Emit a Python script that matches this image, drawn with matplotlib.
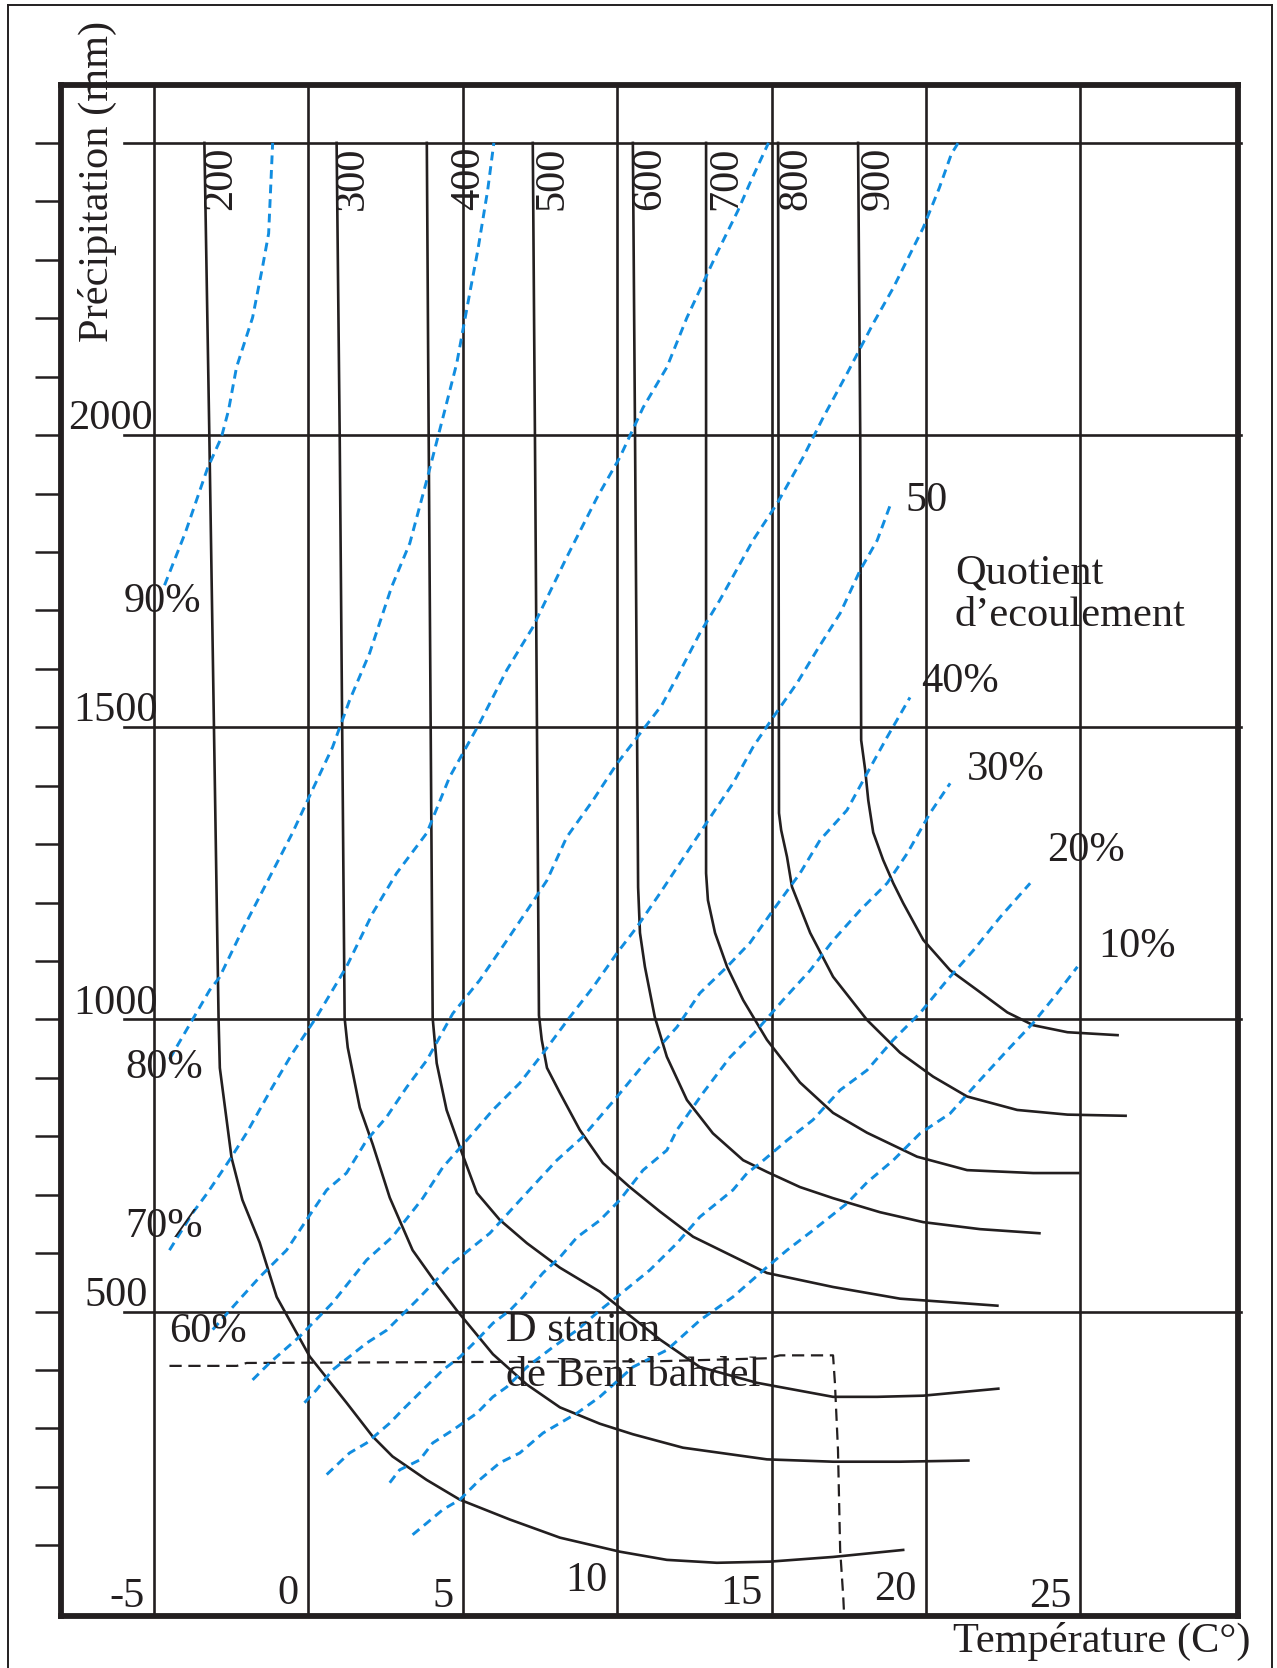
import matplotlib
matplotlib.use('Agg')
import matplotlib.pyplot as plt
from matplotlib.lines import Line2D

plt.rcParams['font.family'] = ['Liberation Serif', 'DejaVu Serif']

INK = '#231f20'
BLUE = '#118de0'
FS = 30.5

# grille : températures (°C) et précipitations (mm)
temp_grid = [-5, 0, 5, 10, 15, 20, 25]
precip_grid = [500, 1000, 1500, 2000, 2500]
precip_ticks = [100, 200, 300, 400, 500, 600, 700, 800, 900, 1000, 1100, 1200,
                1300, 1400, 1500, 1600, 1700, 1800, 1900, 2000, 2100, 2200,
                2300, 2400, 2500]
y_labels = ['2000', '1500', '1000', '500']
y_label_vals = [2000, 1500, 1000, 500]
x_labels = ['-5', '0', '5', '10', '15', '20', '25']

# courbes de deficit d'ecoulement (T en °C, P en mm)
d200_t = [-3.36, -3.20, -2.90, -2.86, -2.48, -2.13, -1.57, -1.02, 0.05, 1.24, 2.09,
          2.73, 3.83, 4.91, 6.53, 8.15, 10.09, 11.61, 13.23, 14.95, 16.99, 19.26]
d200_p = [2500, 2000, 999, 917, 763, 691, 618, 525, 423, 344, 286,
          252, 212, 178, 144, 113, 89, 75, 70, 72, 80, 92]
d300_t = [0.92, 1.02, 1.18, 1.28, 1.67, 2.09, 2.64, 3.38, 4.16, 4.81, 5.98,
          7.08, 8.15, 9.44, 10.51, 12.13, 14.85, 16.99, 19.16, 21.37]
d300_p = [2500, 2000, 1002, 952, 849, 786, 695, 605, 547, 502, 427,
          375, 336, 308, 290, 267, 247, 243, 243, 245]
d400_t = [3.84, 3.90, 4.03, 4.16, 4.48, 4.91, 5.46, 6.20, 7.08, 8.15, 9.44,
          11.39, 12.68, 14.53, 16.99, 18.42, 19.91, 22.34]
d400_p = [2500, 2000, 1002, 925, 845, 781, 703, 657, 617, 575, 534,
          452, 405, 378, 354, 354, 356, 368]
d500_t = [7.27, 7.34, 7.47, 7.56, 7.73, 8.15, 8.79, 9.54, 10.41, 11.39, 12.46,
          14.85, 16.99, 19.16, 22.31]
d500_p = [2500, 2000, 1007, 965, 917, 874, 811, 754, 713, 671, 628,
          566, 542, 522, 510]
d600_t = [10.51, 10.58, 10.68, 10.74, 10.90, 11.22, 11.61, 12.26, 13.10, 14.08,
          14.85, 15.92, 16.99, 18.51, 19.91, 21.75, 23.67]
d600_p = [2500, 2000, 1226, 1148, 1090, 1004, 936, 862, 805, 759,
          739, 713, 694, 670, 653, 641, 634]
d700_t = [12.88, 12.88, 12.94, 13.17, 13.56, 14.08, 14.85, 15.92, 16.99, 18.09,
          19.71, 21.33, 23.47, 24.93]
d700_p = [2500, 1250, 1204, 1148, 1090, 1033, 965, 892, 840, 806,
          765, 742, 737, 737]
d800_t = [15.21, 15.24, 15.31, 15.50, 15.66, 16.25, 16.99, 18.09, 19.16, 20.23,
          21.33, 22.95, 24.58, 26.46]
d800_p = [2500, 1353, 1324, 1278, 1227, 1148, 1073, 999, 943, 902,
          868, 845, 837, 835]
d900_t = [17.80, 17.87, 17.90, 18.03, 18.13, 18.29, 18.61, 18.94, 19.26, 19.91,
          20.78, 21.66, 22.63, 23.47, 24.58, 26.20]
d900_p = [2500, 2000, 1478, 1427, 1375, 1320, 1273, 1233, 1199, 1136,
          1084, 1050, 1012, 990, 978, 973]
deficit_names = ['200', '300', '400', '500', '600', '700', '800', '900']
deficit_label_t = [-2.83, 1.45, 5.21, 7.90, 11.07, 13.52, 15.79, 18.45]

# quotient d'ecoulement (%)
q90_t = [-4.65, -3.97, -3.26, -2.81, -2.58, -2.32, -1.80, -1.48, -1.28, -1.15]
q90_p = [1743, 1834, 1943, 1996, 2042, 2116, 2201, 2287, 2345, 2500]
q80_t = [-4.49, -3.75, -3.19, -2.87, -2.13, -1.35, -0.51, 0.14, 0.79, 1.34, 1.99,
         2.70, 3.29, 3.84, 4.42, 4.81, 5.23, 5.49, 5.81, 6.01]
q80_p = [932, 999, 1050, 1072, 1153, 1233, 1319, 1393, 1466, 1546, 1627,
         1740, 1815, 1923, 2042, 2123, 2243, 2316, 2419, 2500]
q70_t = [-4.49, -3.75, -3.26, -2.55, -2.00, -1.16, -0.51, 0.27, 1.24, 2.09, 2.86,
         3.84, 4.58, 5.55, 6.43, 7.27, 8.37, 9.35, 10.09, 10.84, 11.61, 12.26,
         13.23, 13.91, 14.34, 14.90]
q70_p = [605, 668, 703, 759, 805, 884, 942, 1004, 1090, 1182, 1250,
         1319, 1415, 1507, 1598, 1671, 1791, 1893, 1962, 2047, 2116, 2201,
         2311, 2384, 2436, 2500]
q60_t = [-3.09, -2.32, -1.57, -0.70, 0.05, 0.60, 1.24, 1.89, 2.54, 3.19, 3.84,
         4.68, 5.55, 6.43, 7.08, 7.73, 8.37, 9.22, 10.00, 11.45, 11.94, 12.68,
         13.33, 14.40, 15.18, 16.02, 16.67, 17.44, 18.29, 18.94, 19.91, 20.43,
         20.82, 21.04]
q60_p = [469, 515, 559, 605, 665, 708, 737, 793, 833, 884, 930,
         1010, 1067, 1135, 1186, 1238, 1312, 1375, 1438, 1538, 1586, 1661,
         1718, 1820, 1883, 1962, 2030, 2105, 2191, 2252, 2355, 2423,
         2481, 2500]
q50_t = [-1.80, -1.25, -0.28, 0.79, 1.89, 2.73, 3.71, 4.36, 5.13, 5.98, 6.85,
         7.60, 8.47, 9.22, 9.99, 10.64, 11.39, 11.94, 12.59, 13.23, 13.75,
         14.40, 15.05, 15.83, 16.47, 17.22, 17.87, 18.42, 18.84]
q50_p = [383, 412, 457, 515, 588, 628, 694, 747, 793, 845, 891,
         942, 1004, 1055, 1113, 1158, 1216, 1260, 1312, 1363, 1404,
         1466, 1517, 1576, 1632, 1695, 1769, 1820, 1880]
q40_t = [-0.12, 0.27, 0.79, 1.89, 2.54, 3.51, 4.68, 5.88, 6.95, 8.05, 8.89,
         9.99, 10.97, 11.94, 12.68, 13.56, 14.30, 15.05, 15.92, 16.57, 17.44,
         18.09, 18.74, 19.48]
q40_p = [344, 366, 400, 446, 468, 519, 583, 634, 696, 759, 799,
         867, 930, 987, 1045, 1090, 1131, 1187, 1250, 1307, 1358,
         1421, 1483, 1551]
q30_t = [0.60, 1.34, 1.89, 2.64, 3.06, 3.71, 4.36, 4.91, 5.55, 5.98, 6.53,
         6.95, 7.60, 8.15, 8.70, 9.44, 10.09, 10.84, 11.61, 11.94, 12.78,
         13.65, 14.53, 15.37, 16.25, 16.99, 17.87, 18.74, 19.39, 20.13, 20.78]
q30_p = [221, 258, 275, 309, 332, 366, 400, 422, 456, 480, 502,
         525, 566, 593, 627, 656, 691, 742, 776, 811, 874,
         935, 982, 1033, 1084, 1135, 1187, 1233, 1284, 1353, 1404]
q20_t = [2.64, 2.96, 3.61, 4.03, 4.68, 5.46, 5.98, 6.43, 7.08, 7.92, 8.70,
         9.44, 9.99, 11.06, 11.94, 12.68, 13.75, 14.21, 14.63, 15.50, 16.34,
         17.22, 18.09, 18.94, 19.81, 20.68, 21.53, 22.40, 23.37]
q20_p = [207, 229, 246, 275, 297, 326, 354, 371, 405, 439, 468,
         502, 525, 571, 617, 662, 708, 737, 754, 793, 828,
         879, 913, 965, 1011, 1067, 1118, 1175, 1233]
q10_t = [3.38, 3.84, 4.36, 4.91, 5.55, 6.20, 6.85, 7.60, 8.15, 8.70, 9.44,
         10.51, 11.61, 12.68, 13.75, 14.85, 15.50, 16.34, 17.44, 18.09, 18.94,
         19.81, 20.78, 21.66, 22.63, 23.47, 24.25, 24.90]
q10_p = [118, 138, 161, 178, 212, 241, 258, 292, 309, 326, 354,
         405, 434, 485, 525, 576, 605, 639, 685, 721, 759,
         805, 839, 891, 947, 994, 1045, 1090]
quotient_names = ['90%', '80%', '70%', '60%', '50', '40%', '30%', '20%', '10%']

# station de Beni Bahdel
station_t = [-4.49, -2.31, -1.99, 11.40, 14.85, 15.27, 16.99, 17.05, 17.15, 17.22, 17.32, 17.35]
station_p = [407, 407, 412, 415, 420, 425, 425, 378, 263, 92, 12, -21]


fig = plt.figure(figsize=(12.77, 16.68), dpi=100)
ax = fig.add_axes([0.0478, 0.0312, 0.9217, 0.9178])
ax.set_xlim(-8.0, 30.1)
ax.set_ylim(-21, 2599)

for side in ax.spines.values():
    side.set_linewidth(4.2)
    side.set_color(INK)
ax.set_xticks([])
ax.set_yticks(precip_ticks)
ax.tick_params(axis='y', direction='out', length=18.5, width=1.8,
               color=INK, labelleft=False)

# cadre exterieur
for xs, ys in [([0.0063, 0.0063], [0.0, 0.997]),
               ([0.0063, 0.996], [0.997, 0.997]),
               ([0.996, 0.996], [0.997, 0.0])]:
    fig.add_artist(Line2D(xs, ys, color=INK, lw=1.4))

# grille
for t in temp_grid:
    ax.axvline(t, color=INK, lw=1.9, zorder=1)
for p in precip_grid:
    ax.plot([-5.97, 30.2], [p, p], color=INK, lw=1.9, zorder=1, clip_on=False)

# courbes noires
deficit_curves = [(d200_t, d200_p), (d300_t, d300_p), (d400_t, d400_p),
                  (d500_t, d500_p), (d600_t, d600_p), (d700_t, d700_p),
                  (d800_t, d800_p), (d900_t, d900_p)]
for (ts, ps), name, lt in zip(deficit_curves, deficit_names, deficit_label_t):
    ax.plot(ts, ps, color=INK, lw=1.9, zorder=2, solid_joinstyle='round')
    ax.text(lt, 2440, name, rotation=90, ha='center', va='center',
            fontsize=FS, color=INK)

# lignes bleues en tirets
quotient_lines = [(q90_t, q90_p), (q80_t, q80_p), (q70_t, q70_p), (q60_t, q60_p),
                  (q50_t, q50_p), (q40_t, q40_p), (q30_t, q30_p), (q20_t, q20_p),
                  (q10_t, q10_p)]
for ts, ps in quotient_lines:
    ax.plot(ts, ps, color=BLUE, lw=2.1, linestyle=(0, (3.0, 2.0)), zorder=3)

label_pos = [(-4.72, 1715), (-4.66, 918), (-4.66, 645), (-3.24, 466),
             (20.03, 1888), (21.10, 1577), (22.59, 1428), (25.17, 1288),
             (26.83, 1124)]
for name, (lt, lp) in zip(quotient_names, label_pos):
    ax.text(lt, lp, name, ha='center', va='center', fontsize=FS, color=INK, zorder=4)

# station
ax.plot(station_t, station_p, color=INK, lw=1.6, linestyle=(0, (5.5, 3)), zorder=2)
ax.text(6.41, 450, 'D station', ha='left', va='baseline', fontsize=FS, color=INK)
ax.text(6.41, 372, 'de Beni bahdel', ha='left', va='baseline', fontsize=FS, color=INK)

ax.text(20.93, 1746, 'Quotient', ha='left', va='baseline', fontsize=FS, color=INK)
ax.text(20.93, 1673, 'd\u2019ecoulement', ha='left', va='baseline', fontsize=FS, color=INK)

# graduations
for lab, val, lt in zip(y_labels, y_label_vals, [-7.76, -7.59, -7.59, -7.24]):
    ax.text(lt, val + 10, lab, ha='left', va='baseline', fontsize=FS, color=INK)
for lab, t, pb in zip(x_labels, temp_grid, [-5, 0, -5, 22, 0, 7, -5]):
    ax.text(t - 0.3, pb, lab, ha='right', va='baseline', fontsize=FS, color=INK)

fig.text(0.0767, 0.891, 'Précipitation (mm)', rotation=90, ha='center', va='center',
         fontsize=FS, color=INK)
fig.text(0.863, 0.0156, 'Température (C°)', ha='center', va='center',
         fontsize=FS, color=INK)

fig.savefig('out.png', dpi=100)
plt.close(fig)
